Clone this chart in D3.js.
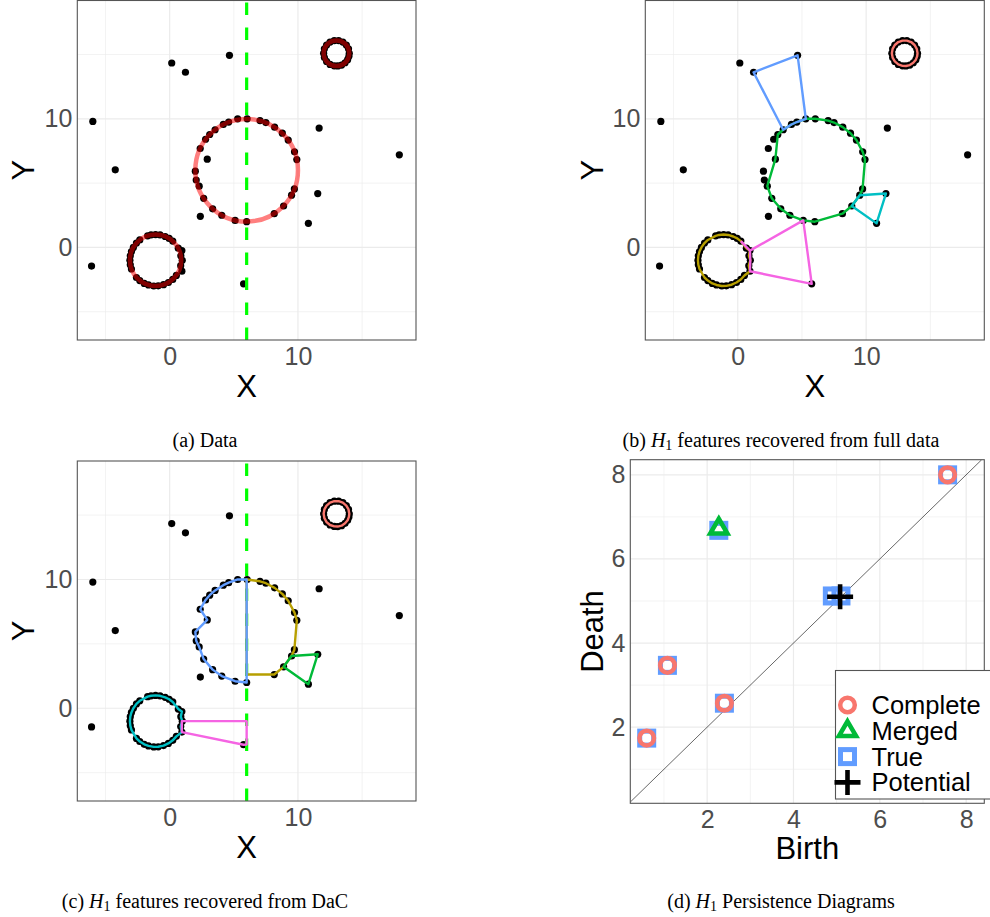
<!DOCTYPE html>
<html>
<head>
<meta charset="utf-8">
<script src="https://cdnjs.cloudflare.com/ajax/libs/d3/7.8.5/d3.min.js"></script>
<style>
body { margin: 0; background: #fff; }
svg { display: block; }
</style>
</head>
<body>
<svg id="fig" width="990" height="917"></svg>
<script>
// scattered points (x, y)
var outliers = [[0.16,14.34],[1.23,13.62],[4.66,14.94],[-5.99,9.8],[11.65,9.28],[17.9,7.2],
  [-4.24,6.03],[2.93,6.86],[11.54,4.19],[2.39,2.42],[10.81,1.87],[-6.09,-1.45],[5.76,-2.83]];

// points sampled on the large circle
var bigRing = [[5.30,10.00],[6.04,10.00],[7.04,9.86],[7.50,9.71],[8.18,9.35],[8.78,8.88],[9.24,8.35],
  [9.73,7.43],[9.91,6.83],[9.72,4.55],[9.50,4.06],[8.88,3.22],[8.15,2.62],[6.00,2.00],[5.10,2.10],
  [4.06,2.50],[3.35,3.00],[2.65,3.82],[2.30,4.76],[2.07,5.24],[2.00,5.93],[2.38,7.69],[2.80,8.41],
  [3.12,8.78],[3.54,9.15],[4.18,9.56],[4.60,9.75]];

// points on the small circle
var smallRing = [[0.98,-1.00],[0.87,-0.65],[0.95,-0.25],[0.67,-0.06],[0.24,0.49],[-0.04,0.70],[-0.35,0.85],
  [-0.75,0.97],[-1.10,1.00],[-1.45,0.97],[-1.72,0.90],[-2.33,0.58],[-2.59,0.34],[-2.83,0.00],[-2.98,-0.32],
  [-3.07,-0.65],[-3.10,-1.00],[-3.07,-1.35],[-2.98,-1.68],[-2.59,-2.34],[-2.33,-2.58],[-1.98,-2.80],
  [-1.65,-2.92],[-1.24,-3.00],[-0.89,-2.99],[-0.48,-2.90],[-0.10,-2.73],[0.24,-2.49],[0.52,-2.18],
  [0.95,-1.85],[0.86,-1.42]];

// points on the tiny circle
var tinyRing = [[14.0,15.1],[13.94,15.44],[13.77,15.74],[13.5,15.97],[13.17,16.08],[12.83,16.08],
  [12.5,15.97],[12.23,15.74],[12.06,15.44],[12.0,15.1],[12.06,14.76],[12.23,14.46],[12.5,14.23],
  [12.83,14.12],[13.10,14.11],[13.40,14.18],[13.67,14.36],[13.87,14.6],[13.97,14.86]];

// true circles (panel a)
var ringCx = [6, -1.1, 13];
var ringCy = [6, -1, 15.1];
var ringR = [4, 2, 1];

var splitX = 6;

// H1 cycles recovered from full data (panel b)
var cycB = [
  { col: '#F8766D', closed: true, pts: tinyRing },
  { col: '#B79F00', closed: true, pts: smallRing },
  { col: '#00BA38', closed: true, pts: [[3.12,8.78],[2.93,6.86],[2.30,4.76],[2.65,3.82],[3.35,3.00],[4.06,2.50],
      [5.10,2.10],[6.00,2.00],[8.15,2.62],[8.88,3.22],[9.50,4.06],[9.72,4.55],[9.91,6.83],[9.73,7.43],
      [9.24,8.35],[8.78,8.88],[8.18,9.35],[7.50,9.71],[7.04,9.86],[6.04,10.00],[5.30,10.00],[4.60,9.75],
      [4.18,9.56],[3.54,9.15]] },
  { col: '#00BFC4', closed: true, pts: [[9.50,4.06],[11.54,4.19],[10.81,1.87],[8.88,3.22]] },
  { col: '#619CFF', closed: true, pts: [[5.30,10.00],[4.60,9.75],[4.18,9.56],[3.54,9.15],[1.23,13.62],[4.66,14.94]] },
  { col: '#F564E3', closed: false, pts: [[0.24,0.49],[0.95,-0.25],[5.10,2.10],[5.76,-2.83],[0.95,-1.85],[0.98,-1.00],[0.95,-0.25]] }
];

// H1 cycles recovered from DaC (panel c)
var cycC = [
  { col: '#F8766D', closed: true, pts: tinyRing },
  { col: '#B79F00', closed: true, pts: [[6.04,10.00],[7.04,9.86],[7.50,9.71],[8.18,9.35],[8.78,8.88],[9.24,8.35],
      [9.73,7.43],[9.91,6.83],[9.72,4.55],[9.50,4.06],[8.88,3.22],[8.15,2.62],[6.00,2.62],[6.00,10.00]] },
  { col: '#00BA38', closed: true, pts: [[9.50,4.06],[11.54,4.19],[10.81,1.87],[8.88,3.22]] },
  { col: '#00BFC4', closed: true, pts: smallRing },
  { col: '#619CFF', closed: true, pts: [[6.00,10.00],[5.30,10.00],[4.60,9.75],[4.18,9.56],[3.54,9.15],[3.12,8.78],
      [2.80,8.41],[2.38,7.69],[2.93,6.86],[2.00,5.93],[2.07,5.24],[2.30,4.76],[2.65,3.82],[3.35,3.00],
      [4.06,2.50],[5.10,2.10],[6.00,2.00]] },
  { col: '#F564E3', closed: true, pts: [[0.95,-1.00],[6.00,-1.00],[6.00,-2.81],[5.76,-2.83],[0.95,-1.85]] }
];

// persistence diagram (panel d)
var completeBirth = [0.6, 1.08, 2.4, 7.57];
var completeDeath = [1.74, 3.47, 2.57, 8.0];
var mergedBirth = [2.27];
var mergedDeath = [6.73];
var trueBirth = [0.6, 1.08, 2.4, 7.57, 2.27, 4.9, 5.1];
var trueDeath = [1.74, 3.47, 2.57, 8.0, 6.68, 5.12, 5.12];
var potentialBirth = [5.08];
var potentialDeath = [5.1];
var legendLabels = ['Complete', 'Merged', 'True', 'Potential'];

var xyDomain = [-7.2, 19.2];
var gridMajor = [0, 10], gridMinor = [-5, 5, 15];
var dGridMajor = [2, 4, 6, 8], dGridMinor = [1, 3, 5, 7];

var sans = "'Liberation Sans', Arial, sans-serif";
var svg = d3.select('#fig');
var defs = svg.append('defs');

function zip(a, b) {
  return a.map(function(d, i) { return [d, b[i]]; });
}

function drawGrid(g, x, y, major, minor) {
  var xr = x.range(), yr = y.range();
  [[minor, 0.6], [major, 1.2]].forEach(function(s) {
    g.selectAll(null).data(s[0]).enter().append('line')
      .attr('x1', function(d) { return x(d); }).attr('x2', function(d) { return x(d); })
      .attr('y1', yr[0]).attr('y2', yr[1])
      .attr('stroke', '#ebebeb').attr('stroke-width', s[1]);
    g.selectAll(null).data(s[0]).enter().append('line')
      .attr('y1', function(d) { return y(d); }).attr('y2', function(d) { return y(d); })
      .attr('x1', xr[0]).attr('x2', xr[1])
      .attr('stroke', '#ebebeb').attr('stroke-width', s[1]);
  });
}

function drawAxes(x, y, ticks, xlab, ylab, xlabY, ylabX) {
  var xr = x.range(), yr = y.range();
  var ax = svg.append('g').attr('transform', 'translate(0,' + yr[0] + ')')
    .call(d3.axisBottom(x).tickValues(ticks).tickSize(0).tickPadding(7));
  var ay = svg.append('g').attr('transform', 'translate(' + xr[0] + ',0)')
    .call(d3.axisLeft(y).tickValues(ticks).tickSize(0).tickPadding(5));
  [ax, ay].forEach(function(a) {
    a.select('.domain').remove();
    a.attr('font-size', 25).attr('font-family', sans).attr('color', '#4d4d4d');
  });
  svg.append('text').text(xlab)
    .attr('x', (xr[0] + xr[1]) / 2).attr('y', xlabY)
    .attr('text-anchor', 'middle').attr('font-size', 31).attr('font-family', sans);
  svg.append('text').text(ylab)
    .attr('transform', 'translate(' + ylabX + ',' + (yr[0] + yr[1]) / 2 + ') rotate(-90)')
    .attr('text-anchor', 'middle').attr('font-size', 31).attr('font-family', sans);
}

function frame(x, y) {
  var xr = x.range(), yr = y.range();
  svg.append('rect')
    .attr('x', xr[0]).attr('y', yr[1]).attr('width', xr[1] - xr[0]).attr('height', yr[0] - yr[1])
    .attr('fill', 'none').attr('stroke', '#555').attr('stroke-width', 1.1);
}

function scatterPanel(id, box) {
  var x = d3.scaleLinear().domain(xyDomain).range([box[0], box[1]]);
  var y = d3.scaleLinear().domain(xyDomain).range([box[3], box[2]]);
  defs.append('clipPath').attr('id', id).append('rect')
    .attr('x', box[0]).attr('y', box[2]).attr('width', box[1] - box[0]).attr('height', box[3] - box[2]);
  var g = svg.append('g').attr('clip-path', 'url(#' + id + ')');
  drawGrid(g, x, y, gridMajor, gridMinor);
  g.append('g').selectAll('circle')
    .data(outliers.concat(bigRing, smallRing, tinyRing))
    .enter().append('circle')
    .attr('cx', function(d) { return x(d[0]); })
    .attr('cy', function(d) { return y(d[1]); })
    .attr('r', 3.6)
    .attr('fill', '#000');
  return { g: g, x: x, y: y };
}

function dashLine(p) {
  p.g.append('line')
    .attr('x1', p.x(splitX)).attr('x2', p.x(splitX))
    .attr('y1', p.y(xyDomain[0])).attr('y2', p.y(xyDomain[1]))
    .attr('stroke', '#00ff00').attr('stroke-width', 3.2)
    .attr('stroke-dasharray', '12.5,12.5');
}

function drawCycles(p, cycles) {
  var line = d3.line()
    .x(function(d) { return p.x(d[0]); })
    .y(function(d) { return p.y(d[1]); });
  p.g.append('g').selectAll('path')
    .data(cycles)
    .enter().append('path')
    .attr('d', function(c) { return line(c.pts) + (c.closed ? 'Z' : ''); })
    .attr('fill', 'none')
    .attr('stroke', function(c) { return c.col; })
    .attr('stroke-width', 2.4)
    .attr('stroke-linejoin', 'round');
}

// (a) Data
var pa = scatterPanel('clipA', [77.3, 416, 0.5, 340]);
pa.g.append('g').selectAll('circle')
  .data(ringCx)
  .enter().append('circle')
  .attr('cx', function(d) { return pa.x(d); })
  .attr('cy', function(d, i) { return pa.y(ringCy[i]); })
  .attr('r', function(d, i) { return pa.x(d + ringR[i]) - pa.x(d); })
  .attr('fill', 'none')
  .attr('stroke', 'rgba(255,0,0,0.5)')
  .attr('stroke-width', 4.5);
dashLine(pa);
frame(pa.x, pa.y);
drawAxes(pa.x, pa.y, gridMajor, 'X', 'Y', 397, 34);

// (b) full data
var pb = scatterPanel('clipB', [645.3, 984.3, 0.5, 340]);
drawCycles(pb, cycB);
frame(pb.x, pb.y);
drawAxes(pb.x, pb.y, gridMajor, 'X', 'Y', 397, 603);

// (c) DaC
var pc = scatterPanel('clipC', [77.3, 416, 461, 801]);
dashLine(pc);
drawCycles(pc, cycC);
frame(pc.x, pc.y);
drawAxes(pc.x, pc.y, gridMajor, 'X', 'Y', 858, 34);

// (d) persistence diagram
var dx = d3.scaleLinear().domain([0.22, 8.42]).range([630.3, 984.3]);
var dy = d3.scaleLinear().domain([0.19, 8.36]).range([803.3, 459.7]);
defs.append('clipPath').attr('id', 'clipD').append('rect')
  .attr('x', 630.3).attr('y', 459.7).attr('width', 354).attr('height', 343.6);
var gd = svg.append('g').attr('clip-path', 'url(#clipD)');
drawGrid(gd, dx, dy, dGridMajor, dGridMinor);
var diagLo = Math.max(dx.domain()[0], dy.domain()[0]);
var diagHi = Math.min(dx.domain()[1], dy.domain()[1]);
gd.append('line')
  .attr('x1', dx(diagLo)).attr('y1', dy(diagLo))
  .attr('x2', dx(diagHi)).attr('y2', dy(diagHi))
  .attr('stroke', '#000').attr('stroke-width', 0.6);

var shapes = {
  True: function(s) { s.append('rect').attr('x', -7).attr('y', -7).attr('width', 14).attr('height', 14)
    .attr('fill', 'none').attr('stroke', '#619CFF').attr('stroke-width', 5); },
  Complete: function(s) { s.append('circle').attr('r', 7.3)
    .attr('fill', 'none').attr('stroke', '#F8766D').attr('stroke-width', 4.5); },
  Merged: function(s) { s.append('path').attr('d', 'M0,-9.5L8.6,5.3L-8.6,5.3Z')
    .attr('fill', 'none').attr('stroke', '#00BA38').attr('stroke-width', 4.5); },
  Potential: function(s) { s.append('path').attr('d', 'M-13,0H13M0,-12.5V12.5')
    .attr('fill', 'none').attr('stroke', '#000').attr('stroke-width', 4.6); }
};

function plotSeries(births, deaths, kind) {
  var s = gd.append('g').selectAll('g')
    .data(zip(births, deaths))
    .enter().append('g')
    .attr('transform', function(d) { return 'translate(' + dx(d[0]) + ',' + dy(d[1]) + ')'; });
  shapes[kind](s);
}
plotSeries(trueBirth, trueDeath, 'True');
plotSeries(completeBirth, completeDeath, 'Complete');
plotSeries(mergedBirth, mergedDeath, 'Merged');
plotSeries(potentialBirth, potentialDeath, 'Potential');

frame(dx, dy);
drawAxes(dx, dy, dGridMajor, 'Birth', 'Death', 859, 603);

// legend
var lg = svg.append('g').attr('transform', 'translate(835.5,670.5)');
lg.append('rect').attr('width', 170).attr('height', 128.5)
  .attr('fill', '#fff').attr('stroke', '#555').attr('stroke-width', 1.1);
var items = lg.selectAll('g.item')
  .data(legendLabels)
  .enter().append('g')
  .attr('class', 'item')
  .attr('transform', function(d, i) { return 'translate(12,' + (34.5 + i * 25.8) + ')'; });
items.each(function(d) { shapes[d](d3.select(this)); });
items.append('text').text(function(d) { return d; })
  .attr('x', 24).attr('y', 9)
  .attr('font-size', 25.5).attr('font-family', sans);

// captions
var captions = [
  { x: 205, y: 447, pre: '(a) Data', sub: false },
  { x: 781, y: 447, pre: '(b) ', post: ' features recovered from full data', sub: true },
  { x: 205, y: 908, pre: '(c) ', post: ' features recovered from DaC', sub: true },
  { x: 781, y: 908, pre: '(d) ', post: ' Persistence Diagrams', sub: true }
];
captions.forEach(function(c) {
  var t = svg.append('text')
    .attr('x', c.x).attr('y', c.y)
    .attr('text-anchor', 'middle')
    .attr('font-family', "'Liberation Serif', 'Times New Roman', serif")
    .attr('font-size', 20);
  t.append('tspan').text(c.pre);
  if (c.sub) {
    t.append('tspan').attr('font-style', 'italic').text('H');
    t.append('tspan').attr('font-size', 14).attr('dy', 3).text('1');
    t.append('tspan').attr('dy', -3).text(c.post);
  }
});
</script>
</body>
</html>
